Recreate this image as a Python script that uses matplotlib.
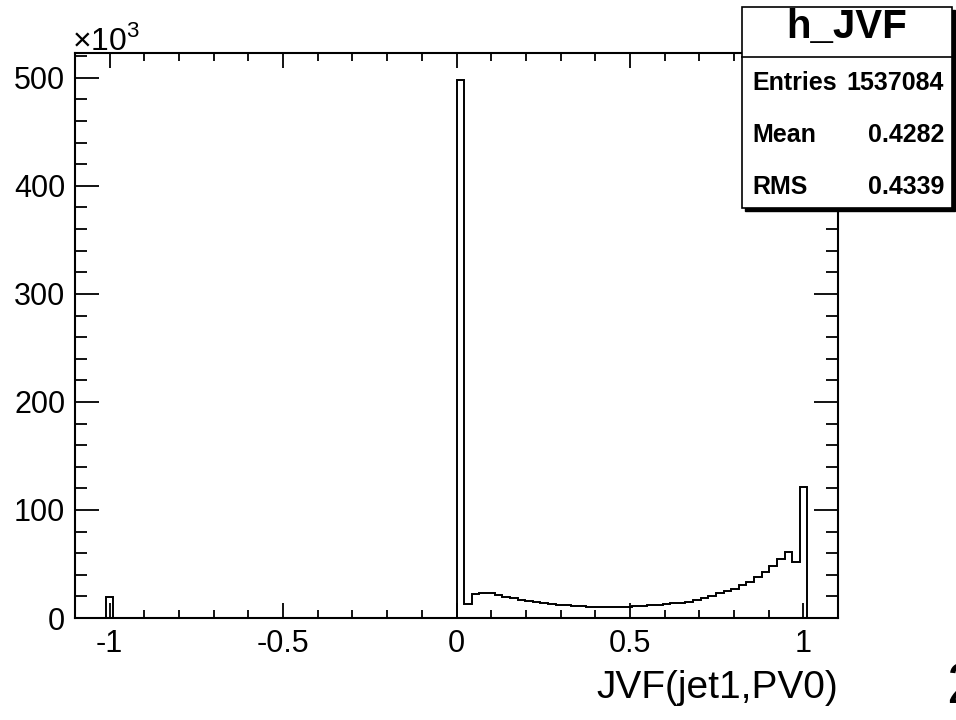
import numpy as np
import matplotlib.pyplot as plt
from matplotlib.patches import Rectangle
from matplotlib.ticker import MultipleLocator

plt.rcParams['font.family'] = ['Liberation Sans', 'DejaVu Sans']
plt.rcParams['mathtext.fontset'] = 'custom'
plt.rcParams['mathtext.rm'] = 'Liberation Sans'

# histogram h_JVF: 100 bins from -1.1 to 1.1, contents in thousands
nBins = 100
xLow, xHigh = -1.1, 1.1
spikeMinusOne = 19.0      # bin 4  [-1.012, -0.990]
spikeZero = 498.0         # bin 50 [0.000, 0.022]
# bins 51..94 (0.022 .. 0.990)
continuum = [12.7, 22.0, 23.5, 22.8, 21.3, 19.8, 18.2, 16.9, 15.7, 14.6,
             13.7, 12.9, 12.3, 11.8, 11.3, 10.9, 10.6, 10.4, 10.3, 10.3,
             10.4, 10.6, 10.9, 11.3, 11.7, 12.2, 12.8, 13.5, 14.2, 15.2,
             16.5, 18.1, 20.3, 22.7, 24.9, 27.3, 30.4, 33.5, 37.7, 43.0,
             48.5, 55.0, 61.0, 52.0]
spikeOne = 121.0          # bin 95 [0.990, 1.012]

histName = 'h_JVF'
statLabels = ['Entries', 'Mean', 'RMS']
statValues = ['1537084', '0.4282', '0.4339']
xTitle = 'JVF(jet1,PV0)'

binEdges = np.linspace(xLow, xHigh, nBins + 1)
counts = np.zeros(nBins)
counts[4] = spikeMinusOne
counts[50] = spikeZero
counts[51:95] = continuum
counts[95] = spikeOne

W, H = 956, 720
fig = plt.figure(figsize=(W / 100, H / 100), dpi=100)
ax = fig.add_axes([75 / W, 1 - 618 / H, (838 - 75) / W, (618 - 53) / H])

ax.stairs(counts, binEdges, baseline=0, color='black', lw=1.4)

ax.set_xlim(xLow, xHigh)
ax.set_ylim(0, 523)
ax.xaxis.set_minor_locator(MultipleLocator(0.1))
ax.yaxis.set_major_locator(MultipleLocator(100))
ax.yaxis.set_minor_locator(MultipleLocator(20))
ax.set_xticks([-1, -0.5, 0, 0.5, 1])
ax.set_xticklabels(['-1', '-0.5', '0', '0.5', '1'])

ax.tick_params(which='both', direction='in', top=True, right=True,
               width=1.3, labelsize=22)
ax.tick_params(axis='x', which='major', length=11, pad=8)
ax.tick_params(axis='x', which='minor', length=5.5)
ax.tick_params(axis='y', which='major', length=17, pad=7)
ax.tick_params(axis='y', which='minor', length=8.5)
for s in ax.spines.values():
    s.set_linewidth(1.5)

ax.set_xlabel(xTitle, fontsize=28, loc='right', labelpad=8)

fig.text(72 / W, 1 - 41 / H, r'$\times10^{3}$', fontsize=23,
         ha='left', va='center')

# stats box
bx0, by0, bx1, by1 = 742, 7, 952, 208
shadow = Rectangle(((bx0 + 3) / W, 1 - (by1 + 3) / H), (bx1 - bx0) / W,
                   (by1 - by0) / H, transform=fig.transFigure,
                   facecolor='black', edgecolor='black', lw=1, zorder=5)
box = Rectangle((bx0 / W, 1 - by1 / H), (bx1 - bx0) / W, (by1 - by0) / H,
                transform=fig.transFigure, facecolor='white', edgecolor='black',
                lw=1.2, zorder=6)
fig.add_artist(shadow)
fig.add_artist(box)
fig.add_artist(plt.Line2D([bx0 / W, bx1 / W], [1 - 57 / H, 1 - 57 / H],
                          transform=fig.transFigure, color='black', lw=1.2,
                          zorder=7))
fig.text((bx0 + bx1) / 2 / W, 1 - 27 / H, histName, fontsize=29,
         fontweight='bold', ha='center', va='center', zorder=8)
rowY = [83, 135, 187]
for lab, val, y in zip(statLabels, statValues, rowY):
    fig.text(752 / W, 1 - y / H, lab, fontsize=18, fontweight='bold',
             ha='left', va='center', zorder=8)
    fig.text(944 / W, 1 - y / H, val, fontsize=18, fontweight='bold',
             ha='right', va='center', zorder=8)

# cut-off character at the right edge of the page
fig.text(946 / W, 1 - 703 / H, '2', fontsize=42, ha='left', va='baseline')

fig.savefig('out.png', dpi=100)
